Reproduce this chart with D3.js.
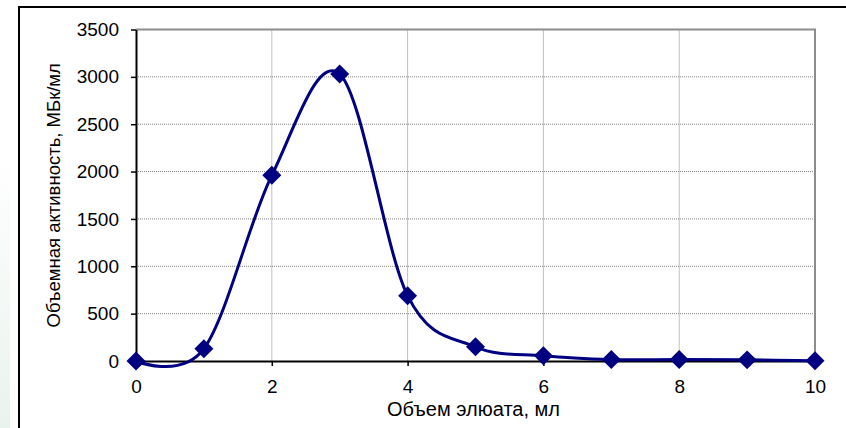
<!DOCTYPE html>
<html>
<head>
<meta charset="utf-8">
<script src="https://cdn.jsdelivr.net/npm/d3@7"></script>
<style>
  html, body { margin: 0; padding: 0; background: #fff; }
  svg { display: block; }
  text { font-family: "Liberation Sans", Arial, sans-serif; fill: #000; }
</style>
</head>
<body>
<div id="chart"></div>
<script>
// eluate volume, ml
const volumes = [0, 1, 2, 3, 4, 5, 6, 7, 8, 9, 10];
// volumetric activity, MBq/ml
const activity = [0, 130, 1960, 3030, 690, 150, 55, 15, 15, 12, 3];
const yTicks = [0, 500, 1000, 1500, 2000, 2500, 3000, 3500];
const xTicks = [0, 2, 4, 6, 8, 10];
const xTitle = "Объем элюата, мл";
const yTitle = "Объемная активность, МБк/мл";

const W = 846, H = 428;
const margin = {top: 29.5, right: 31, bottom: 67, left: 136};
const width = W - margin.left - margin.right;
const height = H - margin.top - margin.bottom;

const svg = d3.select("#chart").append("svg")
  .attr("width", W)
  .attr("height", H);

// faint green strip at the far left
const grad = svg.append("defs").append("linearGradient")
  .attr("id", "strip").attr("x1", 0).attr("y1", 0).attr("x2", 0).attr("y2", 1);
grad.append("stop").attr("offset", "0.35").attr("stop-color", "#ffffff");
grad.append("stop").attr("offset", "1").attr("stop-color", "#e9f3ed");
svg.append("rect").attr("x", 0).attr("y", 0).attr("width", 10).attr("height", H)
  .attr("fill", "url(#strip)");

// outer chart frame (runs off the right and bottom edge)
svg.append("rect")
  .attr("x", 19).attr("y", 7).attr("width", 900).attr("height", 500)
  .attr("fill", "#fff").attr("stroke", "#000").attr("stroke-width", 2);

const g = svg.append("g").attr("transform", `translate(${margin.left},${margin.top})`);

const x = d3.scaleLinear().domain([0, 10]).range([0, width]);
const y = d3.scaleLinear().domain([0, 3500]).range([height, 0]);

// grid
g.append("g").selectAll("line")
  .data(yTicks.filter(d => d > 0 && d < 3500))
  .join("line")
    .attr("x1", 0).attr("x2", width)
    .attr("y1", d => y(d)).attr("y2", d => y(d))
    .attr("stroke", "#808080").attr("stroke-width", 1).attr("stroke-dasharray", "1,1");
g.append("g").selectAll("line")
  .data(xTicks.filter(d => d > 0 && d < 10))
  .join("line")
    .attr("x1", d => x(d)).attr("x2", d => x(d))
    .attr("y1", 0).attr("y2", height)
    .attr("stroke", "#808080").attr("stroke-width", 1).attr("stroke-dasharray", "1,1");

// plot area border, top and right
g.append("path")
  .attr("d", `M0,${y(3500)}H${x(10)}V${y(0)}`)
  .attr("fill", "none").attr("stroke", "#8c8c8c").attr("stroke-width", 2);

// axes
const yAxis = g.append("g")
  .call(d3.axisLeft(y).tickValues(yTicks).tickFormat(d3.format("d"))
    .tickSize(5).tickSizeOuter(0).tickPadding(12));
yAxis.select(".domain").attr("stroke", "#000").attr("stroke-width", 2);
yAxis.selectAll("line").attr("stroke", "#000").attr("stroke-width", 1.5);
yAxis.selectAll("text").style("font-size", "19px").style("font-family", "Liberation Sans, Arial, sans-serif");

const xAxis = g.append("g")
  .attr("transform", `translate(0,${height})`)
  .call(d3.axisBottom(x).tickValues(xTicks).tickFormat(d3.format("d"))
    .tickSize(5).tickSizeOuter(0).tickPadding(14));
xAxis.select(".domain").attr("stroke", "#000").attr("stroke-width", 2);
xAxis.selectAll("line").attr("stroke", "#000").attr("stroke-width", 1.5);
xAxis.selectAll("text").style("font-size", "19px").style("font-family", "Liberation Sans, Arial, sans-serif");

// titles
svg.append("text")
  .attr("x", margin.left + x(5) - 2).attr("y", 416)
  .attr("text-anchor", "middle")
  .style("font-size", "20px")
  .text(xTitle);
svg.append("text")
  .attr("transform", `translate(60,${margin.top + height / 2}) rotate(-90)`)
  .attr("text-anchor", "middle")
  .style("font-size", "18.5px")
  .text(yTitle);

// series
const data = volumes.map((v, i) => ({v, a: activity[i]}));
const color = "#000080";

g.append("path")
  .datum(data)
  .attr("fill", "none")
  .attr("stroke", color)
  .attr("stroke-width", 3)
  .attr("stroke-linejoin", "round")
  .attr("d", d3.line()
    .x(d => x(d.v))
    .y(d => y(d.a))
    .curve(d3.curveCardinal.tension(0)));

const diamond = d3.symbol().type(d3.symbolSquare).size(180);
g.selectAll(".pt")
  .data(data)
  .join("path")
    .attr("class", "pt")
    .attr("d", diamond)
    .attr("transform", d => `translate(${x(d.v)},${y(d.a)}) rotate(45)`)
    .attr("fill", color);
</script>
</body>
</html>
